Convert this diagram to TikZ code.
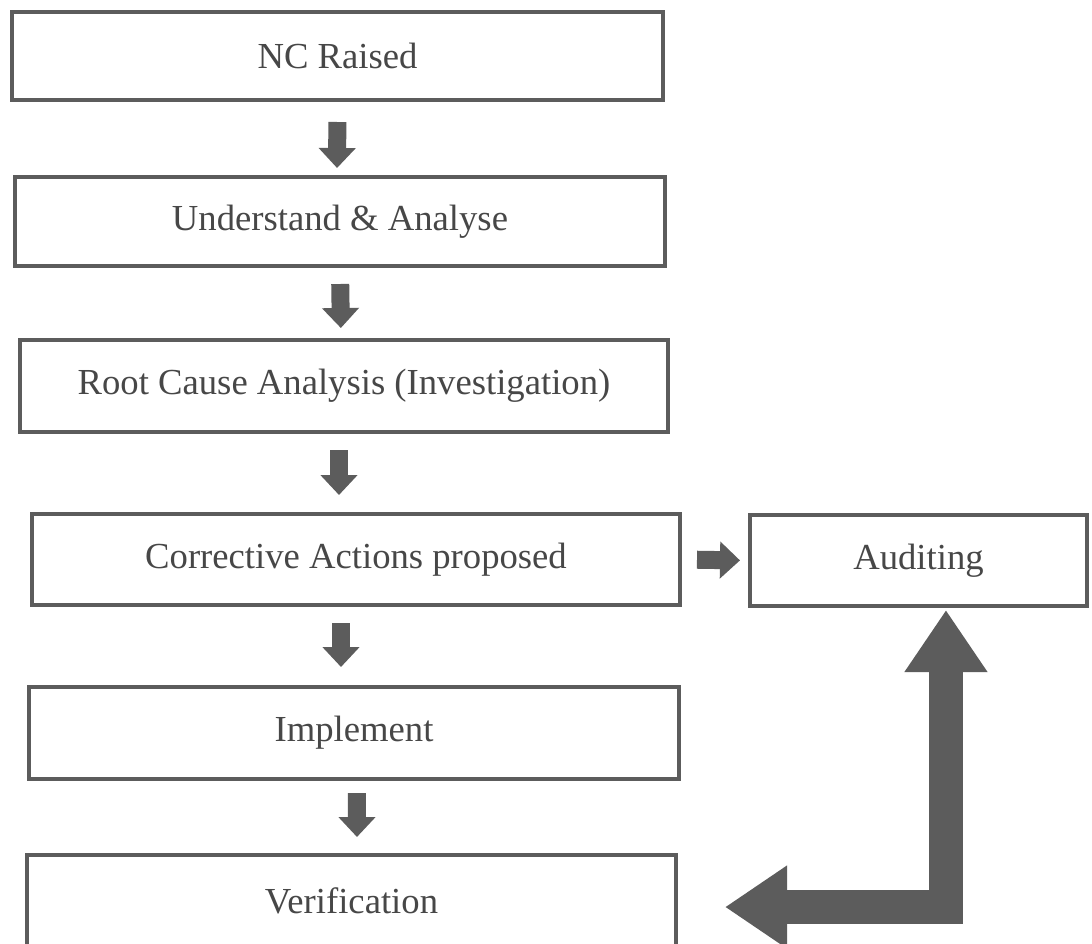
\documentclass[tikz,border=0pt]{standalone}
\usepackage{fontspec}
\setmainfont{Liberation Serif}
\usetikzlibrary{arrows.meta}
\definecolor{ncGray}{HTML}{5C5C5C}
\definecolor{ncText}{HTML}{474747}

\begin{document}
\begin{tikzpicture}[x=0.75pt,y=-0.75pt,
  stepbox/.style={draw=ncGray, line width=3pt, inner sep=0pt, text=ncText,
    font=\fontsize{27.5}{33}\selectfont},
  flow/.style={draw=ncGray, line width=13.5pt, -{Triangle[length=15pt,width=27pt]}},
  bigflow/.style={draw=ncGray, line width=25.5pt, line join=miter,
    {Triangle[length=46.5pt,width=59pt]}-{Triangle[length=46.5pt,width=59pt]}}]
  \useasboundingbox (0,0) rectangle (1092,943);
  \clip (0,0) rectangle (1092,943);
  \fill[white] (0,0) rectangle (1092,943);

  \node[stepbox, minimum width=488.25pt, minimum height=66pt] (nc) at (337.5,56) {NC Raised};
  \node[stepbox, minimum width=487.5pt, minimum height=66.75pt] (und) at (340,221.5) {Understand \& Analyse};
  \node[stepbox, minimum width=486pt, minimum height=69pt] (root) at (344,386) {Root Cause Analysis (Investigation)};
  \node[stepbox, minimum width=486pt, minimum height=68.25pt] (ca) at (356,559.5) {Corrective Actions proposed};
  \node[stepbox, minimum width=252.75pt, minimum height=68.25pt] (aud) at (918.5,560.5) {Auditing};
  \node[stepbox, minimum width=487.5pt, minimum height=69pt] (imp) at (354,733) {Implement};
  \node[stepbox, minimum width=486.75pt, minimum height=68.25pt] (ver) at (351.5,900.5) {Verification};

  \draw[flow, shorten <=15pt, shorten >=5.25pt] (nc.south) -- ([xshift=-2.25pt]und.north);
  \draw[flow, shorten <=12pt, shorten >=7.5pt] (und.south) -- ([xshift=-2.25pt]root.north);
  \draw[flow, shorten <=12pt, shorten >=12.75pt] ([xshift=-3.75pt]root.south) -- ([xshift=-12.75pt]ca.north);
  \draw[flow, shorten <=12pt, shorten >=13.5pt] ([xshift=-11.25pt]ca.south) -- ([xshift=-9.75pt]imp.north);
  \draw[flow, shorten <=9pt, shorten >=12pt] ([xshift=2.25pt]imp.south) -- ([xshift=4.1pt]ver.north);
  \draw[flow, shorten <=11.25pt, shorten >=6pt] (ca.east) -- (aud.west);

  \draw[bigflow, shorten <=35.25pt, shorten >=1.5pt] ([yshift=-4.9pt]ver.east) -| ([xshift=20.6pt]aud.south);
\end{tikzpicture}
\end{document}
